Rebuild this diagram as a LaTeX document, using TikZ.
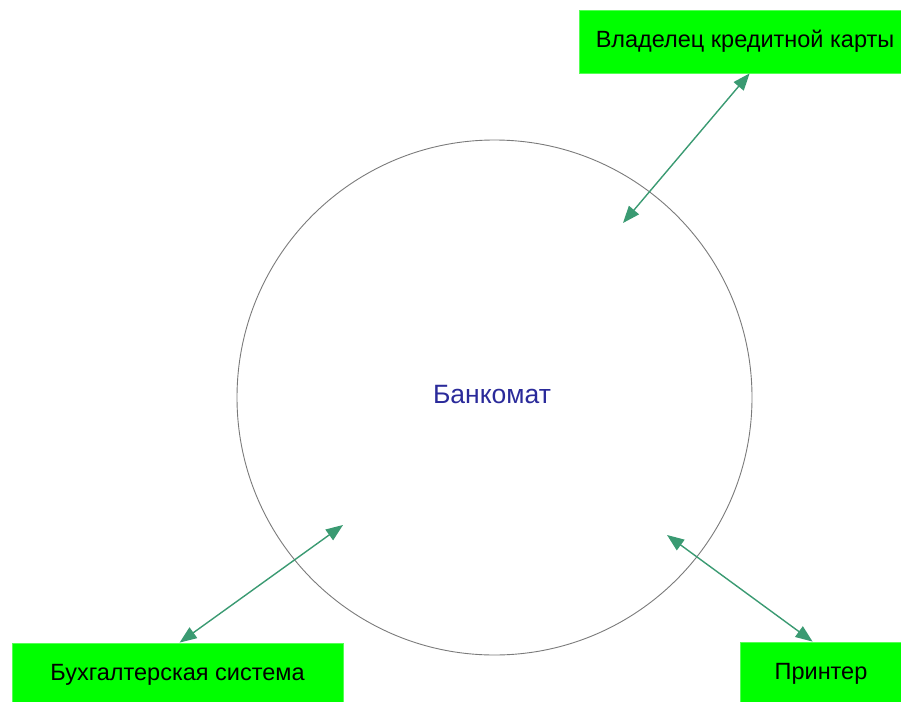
\documentclass[tikz,border=0pt]{standalone}
\usepackage{fontspec}
\setmainfont{Liberation Sans}
\usetikzlibrary{arrows.meta}
\definecolor{boxgreen}{HTML}{00FF00}
\definecolor{boxedge}{HTML}{55FF55}
\definecolor{arrowgreen}{HTML}{3A9A72}
\definecolor{titleblue}{HTML}{2A2A9A}
\definecolor{circlegray}{HTML}{7A7A7A}
\tikzset{
  actor/.style={rectangle, fill=boxgreen, draw=boxedge, line width=0.8pt, inner sep=0pt,
    font=\fontsize{23.5}{26}\selectfont, text=black},
  flow/.style={draw=arrowgreen, line width=1.4pt, {Triangle[length=17pt,width=13pt]}-{Triangle[length=17pt,width=13pt]}},
}
\begin{document}
\begin{tikzpicture}[x=1pt,y=-1pt]
\useasboundingbox (0,0) rectangle (901,701);
\node (atm) [circle, draw=circlegray, line width=0.9pt, minimum size=515pt, inner sep=0pt] at (494.5,397.5) {};
\node (atmlabel) [text=titleblue, font=\fontsize{26.5}{30}\selectfont] at (492,395) {Банкомат};
\node (owner) [actor, minimum width=322pt, minimum height=63pt] at (740,41.5) {\hspace*{10pt}Владелец кредитной карты};
\node (acct) [actor, minimum width=331pt, minimum height=63pt] at (177.5,674.5) {Бухгалтерская система};
\node (printer) [actor, minimum width=162pt, minimum height=63pt] at (821,673.5) {Принтер};
\coordinate (pin1) at (623,223);
\coordinate (pin2) at (343,525);
\coordinate (pin3) at (667,535);
\draw[flow] (pin1) -- ([xshift=171pt]owner.south west);
\draw[flow] (pin2) -- ([xshift=168pt]acct.north west);
\draw[flow] (pin3) -- ([xshift=73pt]printer.north west);
\end{tikzpicture}
\end{document}
